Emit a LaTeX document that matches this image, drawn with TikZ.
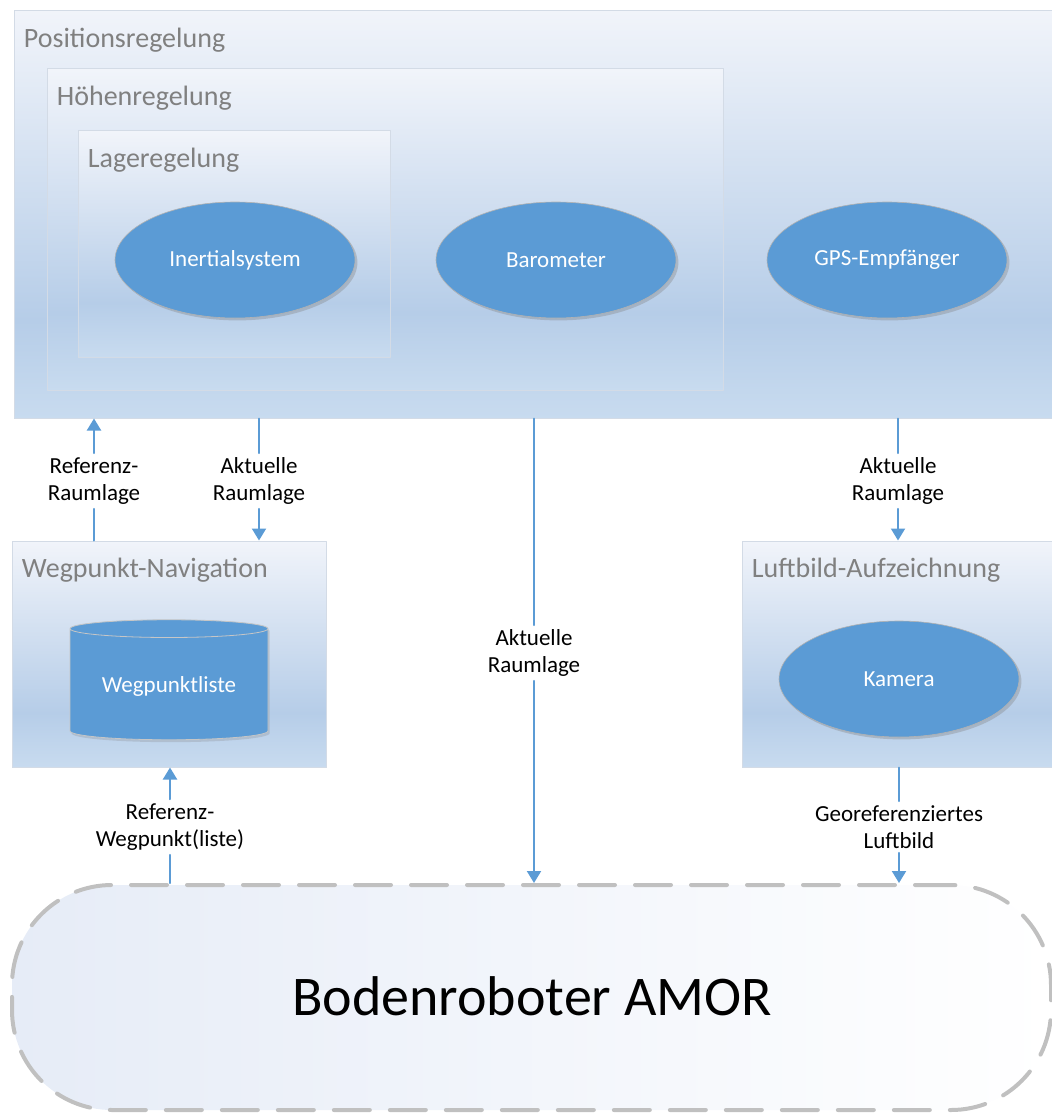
\documentclass[tikz,border=0pt]{standalone}
\usepackage{fontspec}
\setmainfont{Carlito}
\usetikzlibrary{shapes.geometric, arrows.meta, fit, shadows}

\definecolor{regBlue}{HTML}{5B9BD5}
\definecolor{titleGray}{HTML}{808080}
\definecolor{frameGray}{HTML}{D3DBE6}
\definecolor{fadeTop}{HTML}{F1F4FA}
\definecolor{fadeMid}{HTML}{B6CDE8}
\definecolor{fadeBot}{HTML}{C8DBEF}
\definecolor{dashGray}{HTML}{C0C0C0}
\definecolor{robotTop}{HTML}{E6ECF7}

\pgfdeclareverticalshading{panelfade}{100bp}{%
  color(0bp)=(fadeBot); color(25bp)=(fadeBot); color(37bp)=(fadeMid);
  color(75bp)=(fadeTop); color(100bp)=(fadeTop)}

\begin{document}
\begin{tikzpicture}[x=0.5pt, y=-0.5pt, line cap=round, line join=round]

% ---------------- styles ----------------
\tikzset{
  panel/.style  ={draw=frameGray, line width=0.5pt, shade, shading=panelfade, inner sep=0pt,
                  drop shadow={shadow xshift=0.6pt, shadow yshift=-0.6pt, opacity=0.15}},
  ptitle/.style ={anchor=base west, text=titleGray, inner sep=0pt,
                  font=\fontsize{14}{16}\selectfont},
  unit/.style   ={ellipse, fill=regBlue, draw=gray!60, line width=0.3pt, text=white,
                  minimum width=120pt, minimum height=58pt,
                  font=\fontsize{11.5}{13}\selectfont,
                  drop shadow={shadow xshift=1.2pt, shadow yshift=-1.2pt, opacity=0.35}},
  store/.style  ={cylinder, shape border rotate=90, aspect=0.12, fill=regBlue,
                  draw=gray!45, line width=0.4pt, text=white,
                  minimum width=99pt, minimum height=60pt,
                  font=\fontsize{11.5}{13}\selectfont,
                  drop shadow={shadow xshift=0.8pt, shadow yshift=-1.2pt, opacity=0.25}},
  flowlbl/.style={align=center, inner sep=2pt, font=\fontsize{11.5}{13.5}\selectfont},
  link/.style   ={draw=regBlue, line width=1pt},
  flow/.style   ={link, -{Triangle[width=7pt,length=6pt]}},
  robot/.style  ={draw=dashGray, line width=2pt, dash pattern=on 18pt off 10pt,
                  rounded corners=50pt, left color=robotTop, right color=white,
                  inner sep=0pt},
  robotlbl/.style={anchor=base, inner sep=0pt, font=\fontsize{28}{32}\selectfont}
}

% helper: shaded panel with grey title in its top left corner
\newcommand{\RegPanel}[4]{%
  \node[panel, fit={#2 #3}] (#1) {};
  \node[ptitle] (#1Title) at ([shift={(10,37)}]#1.north west) {#4};
}

\useasboundingbox (0,0) rectangle (1052,1113);

% ---------------- control loops ----------------
\RegPanel{posreg}{(14,11)}{(1056,418)}{Positionsregelung}
\RegPanel{hoereg}{(47,69)}{(723,390)}{Höhenregelung}
\RegPanel{lagereg}{(78,131)}{(390,357)}{Lageregelung}

\node[unit] (inertial) at (235,260) {Inertialsystem};
\node[unit] (baro)     at (556,260) {Barometer};
\node[unit] (gps)      at (887,260) {GPS-Empfänger};

% ---------------- side modules ----------------
\RegPanel{wegnav}{(12,541)}{(326,767)}{Wegpunkt-Navigation}
\RegPanel{luftbild}{(742,541)}{(1056,767)}{Luftbild-Aufzeichnung}

\node[store] (wplist) at (169,686) {Wegpunktliste};
\node[unit]  (cam)    at (899,679) {Kamera};

% ---------------- ground robot ----------------
\node[robot, fit={(12,885) (1051,1110)}] (amor) {};
\node[robotlbl] (amorText) at (532,1015) {Bodenroboter AMOR};

% ---------------- signals ----------------
\node[flowlbl] (refRaum) at (94,481)  {Referenz-\\Raumlage};
\node[flowlbl] (aktL)    at (259,481) {Aktuelle\\Raumlage};
\node[flowlbl] (aktM)    at (534,653) {Aktuelle\\Raumlage};
\node[flowlbl] (aktR)    at (898,481) {Aktuelle\\Raumlage};
\node[flowlbl] (refWeg)  at (170,827) {Referenz-\\Wegpunkt(liste)};
\node[flowlbl] (geo)     at (899,827) {Georeferenziertes\\Luftbild};

\draw[link] (wegnav.north -| refRaum) -- (refRaum);
\draw[flow] (refRaum) -- (refRaum |- posreg.south);

\draw[link] (posreg.south -| aktL) -- (aktL);
\draw[flow] (aktL) -- (aktL |- wegnav.north);

\draw[link] (posreg.south -| aktM) -- (aktM);
\draw[flow] (aktM) -- (aktM |- amor.north);

\draw[link] (posreg.south -| aktR) -- (aktR);
\draw[flow] (aktR) -- (aktR |- luftbild.north);

\draw[link] (amor.north -| refWeg) -- (refWeg);
\draw[flow] (refWeg) -- (refWeg |- wegnav.south);

\draw[link] (luftbild.south -| geo) -- (geo);
\draw[flow] (geo) -- (geo |- amor.north);

\end{tikzpicture}
\end{document}
